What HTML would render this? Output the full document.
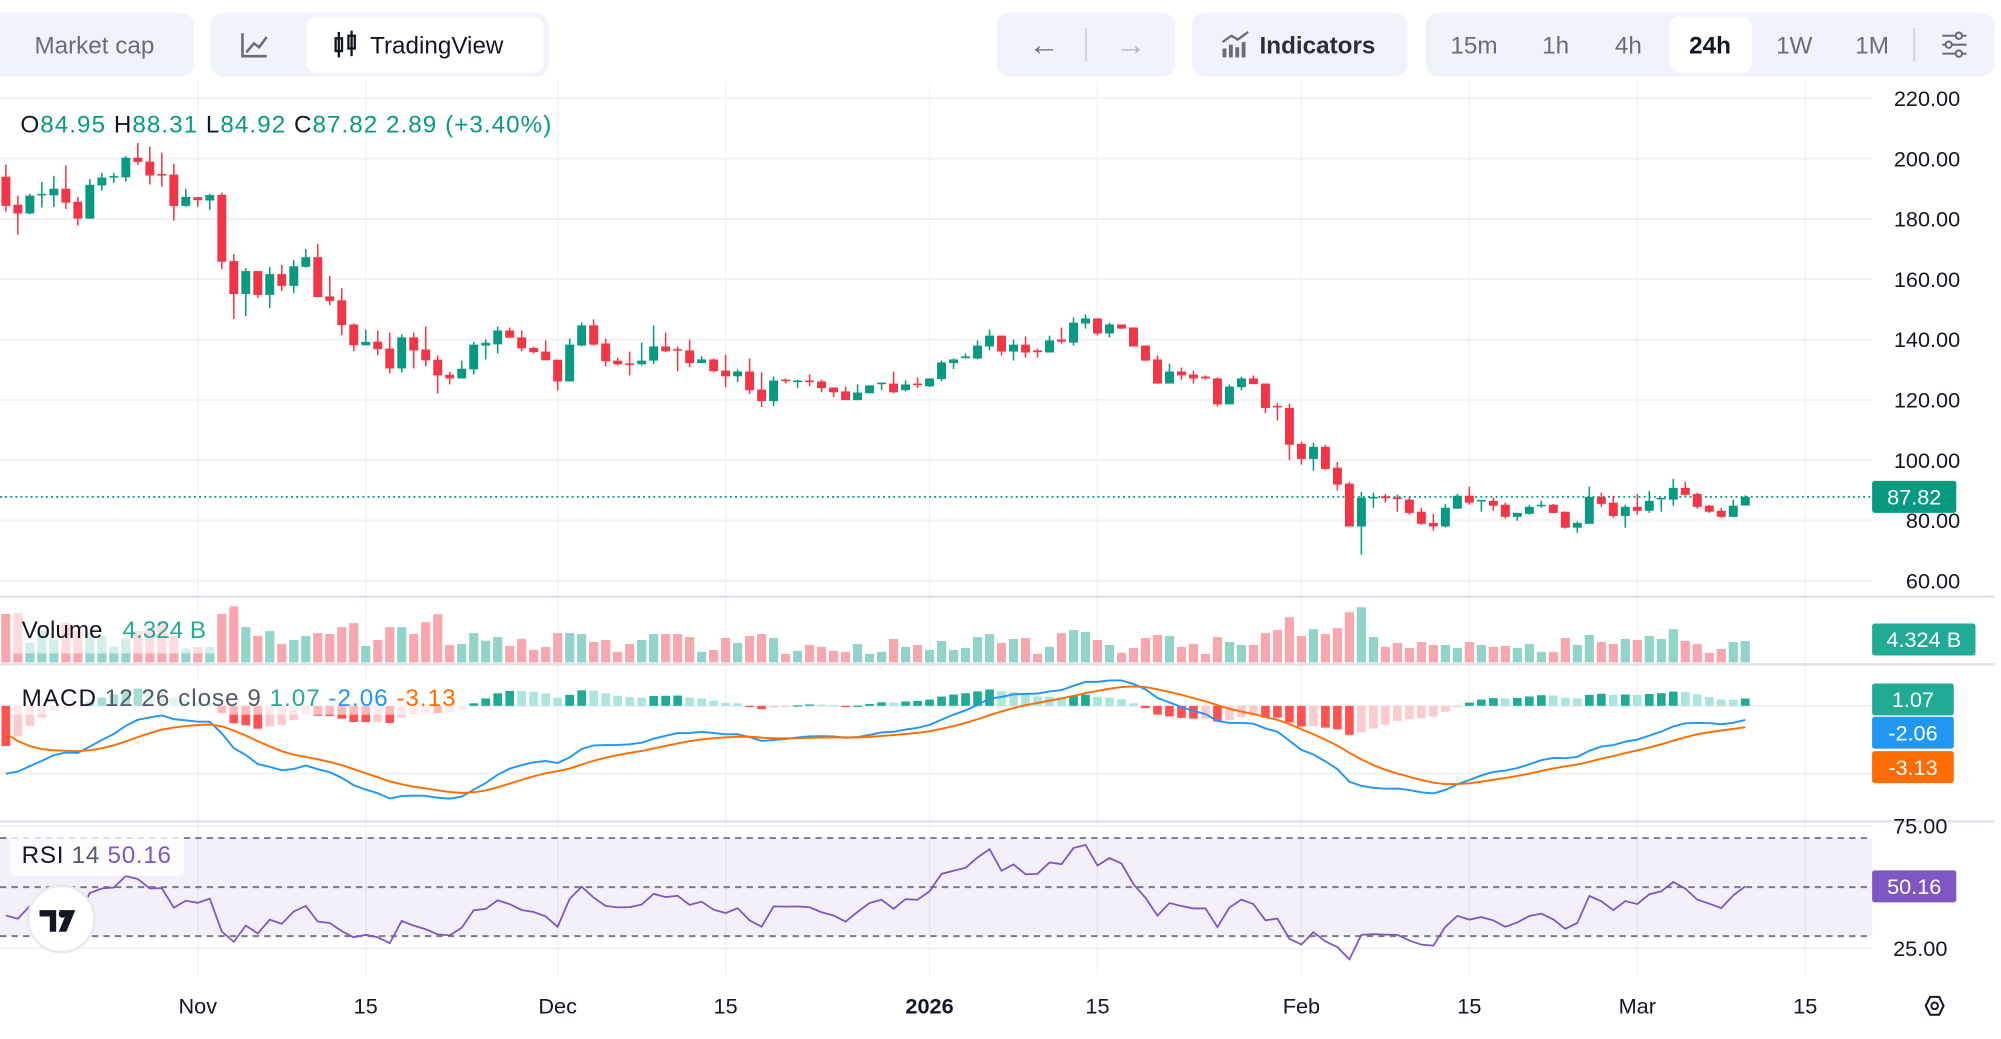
<!DOCTYPE html>
<html><head><meta charset="utf-8">
<style>
html,body{margin:0;padding:0;background:#fff;}
svg{display:block;font-family:"Liberation Sans",sans-serif;}
</style></head>
<body>
<svg id="chart" width="2001" height="1039" viewBox="0 0 1568 814" preserveAspectRatio="none" xmlns="http://www.w3.org/2000/svg">
<rect x="0" y="0" width="1568" height="814" fill="#ffffff"/>
<g>
  <rect x="-10" y="10" width="162" height="50" rx="10" fill="#f0f3fa"/>
  <text x="27" y="42" font-size="19" fill="#6a6d78">Market cap</text>
  <rect x="165" y="10" width="265" height="50" rx="10" fill="#f0f3fa"/>
  <path d="M190 26 V44 H209 M193 41 L199 34 L203 37 L209 29" stroke="#6a6d78" stroke-width="2" fill="none"/>
  <rect x="240" y="13" width="186" height="44" rx="8" fill="#ffffff"/>
  <g stroke="#131722" stroke-width="1.8" fill="none"><rect x="263" y="30" width="5" height="10"/><line x1="265.5" y1="25" x2="265.5" y2="45"/><rect x="273" y="28" width="5" height="10"/><line x1="275.5" y1="24" x2="275.5" y2="44"/></g>
  <text x="290" y="42" font-size="19" fill="#131722">TradingView</text>
  <rect x="781" y="10" width="140" height="50" rx="10" fill="#f0f3fa"/>
  <text x="806" y="43" font-size="24" fill="#6a6d78">←</text>
  <line x1="851" y1="22" x2="851" y2="48" stroke="#d1d4dc" stroke-width="1.5"/>
  <text x="874" y="43" font-size="24" fill="#b2b5be">→</text>
  <rect x="934" y="10" width="169" height="50" rx="10" fill="#f0f3fa"/>
  <g fill="#6a6d78"><rect x="958" y="38" width="3" height="7"/><rect x="963" y="35" width="3" height="10"/><rect x="968" y="37" width="3" height="8"/><rect x="973" y="33" width="3" height="12"/></g>
  <path d="M958 33 L965 28 L970 31 L978 25" stroke="#6a6d78" stroke-width="1.8" fill="none"/>
  <text x="987" y="42" font-size="19" font-weight="bold" fill="#2a2e39">Indicators</text>
  <rect x="1117" y="10" width="446" height="50" rx="10" fill="#f0f3fa"/>
  <text x="1155" y="42" font-size="19" fill="#6a6d78" text-anchor="middle">15m</text>
  <text x="1219" y="42" font-size="19" fill="#6a6d78" text-anchor="middle">1h</text>
  <text x="1276" y="42" font-size="19" fill="#6a6d78" text-anchor="middle">4h</text>
  <rect x="1308" y="13" width="65" height="44" rx="8" fill="#ffffff"/>
  <text x="1340" y="42" font-size="19" font-weight="bold" fill="#131722" text-anchor="middle">24h</text>
  <text x="1406" y="42" font-size="19" fill="#6a6d78" text-anchor="middle">1W</text>
  <text x="1467" y="42" font-size="19" fill="#6a6d78" text-anchor="middle">1M</text>
  <line x1="1500" y1="22" x2="1500" y2="48" stroke="#d1d4dc" stroke-width="1.5"/>
  <g stroke="#6a6d78" stroke-width="1.6" fill="#f0f3fa"><line x1="1522" y1="28" x2="1541" y2="28"/><line x1="1522" y1="35" x2="1541" y2="35"/><line x1="1522" y1="42" x2="1541" y2="42"/><circle cx="1535" cy="28" r="2.5"/><circle cx="1527" cy="35" r="2.5"/><circle cx="1535" cy="42" r="2.5"/></g>
</g>
<g id="grid"></g>
<g id="panes"></g>
<g id="marks"></g>
<g id="legends"></g>
<g id="axes"></g>
</svg>
<script>
// ---- data (Oct 16 2025 .. Mar 10 2026, daily) ----
const firstDay = -16; // days relative to Nov 1
const opens = [194,184.7,181.8,188,187.8,190,185.7,180.1,191.1,193.8,193.8,200.3,199,194.9,194.7,184.3,
187.2,186.1,188,166,155.1,162.7,154.8,161.7,157.8,164.1,167.3,154.3,153,145,138.1,139.3,137,130.4,140.7,136.7,
133.3,128.3,127.1,130.1,138,138.4,143,140.7,137.2,136,133.3,126.1,138,144.7,138.7,133,132.1,131.8,133,137.7,
136.8,136.4,132.2,133.4,129.7,127.8,129.4,123.4,119.6,126.7,126.1,126.4,126.1,124.1,122.8,119.9,122.2,125.2,
125.4,123.2,125.4,124.5,126.9,132.2,133.8,133.7,137.7,141.3,136,138.3,136.4,135.7,140,139,145.3,147,142,145,
144,138,133.4,125.4,129.4,128.4,127.7,127.1,118.5,124.2,127.1,125.4,118,117.3,105.4,100.4,104.4,97.5,92.2,78,
87.6,88,87.6,86.9,82.9,79.2,78,83.9,88.2,86.5,86.5,85.2,81.2,82.2,84.9,85.2,82.9,77.6,78.9,87.8,85.9,81.5,
84.5,83.2,87.2,86.9,90.8,88.8,84.9,83.2,81.2,84.95];
const highs = [198,187.7,188.3,192.3,194.3,197.7,187.3,193.2,195.3,195.3,200.8,205.2,204,202,198.3,190,
187.3,188.3,188.7,168.3,163.7,162.7,164,164.7,166.3,170,171.7,161.1,157,145.3,143.3,143,142.3,141.7,142.3,144.3,
134.7,129.3,133,139.3,140,144.3,144,143,137.6,139.7,133.3,140.3,145.7,146.7,140.3,134,136,139,144.7,142.3,
137.7,140,134.4,133.7,135,130.1,133.7,129.1,127.7,127.1,126.7,128.4,126.7,124.1,124.4,125.1,124.8,125.7,
129.4,126.4,127.4,127.1,133,133.7,135.4,139.7,143.3,141.3,140,141,137,141.3,144,147.3,148.3,147,145.6,145,
144,138,134.7,132,130.7,129.7,128.1,127.4,125.1,127.7,128.1,125.4,119,118.7,106.1,105.7,105.1,99.4,92.8,89.5,
89.2,88.8,88.6,87.6,84.2,82.2,85.5,88.8,91.2,86.8,87.5,85.9,82.5,85.2,86.5,85.5,82.9,79.6,91.2,89.2,88.2,85.2,
88.8,89.8,87.5,93.8,92.8,89.2,85.2,84.2,86.9,88.31];
const lows = [182.4,174.8,181.5,183.8,184,183.3,177.8,180,189.4,191.9,192.4,197.9,191.4,190.7,179.4,184,
184,183,163.4,146.8,147.8,153.8,150.4,156.1,155.4,163.8,154.1,151.4,141.4,136.1,138,134.8,128.8,129.1,130.4,131.1,
122.1,125.1,127.1,128.4,133.4,135.4,140.6,136.1,135.4,133.1,123.1,126.1,137.7,138,131.1,131.4,128.1,131.4,131.8,135.8,
129.5,130.8,132.2,129.2,124.2,125.9,121.9,117.6,118,125.5,123.9,124.5,122.5,120.9,119.9,119.9,122.2,123.2,
122.2,122.8,123.9,124.2,126.2,130.2,133.8,133.4,136.4,134.7,133,134,134,135.7,138.7,138,143.6,141.3,140.7,143.6,
137.7,133,125.4,125.4,126.7,125.4,126.7,117.8,118.5,123.1,125.2,115.6,113.1,100.1,98.5,96.5,96.8,89.9,78,68.7,
84.2,85.9,82.9,81.9,78.6,76.6,77.7,83.9,85.2,82.9,83.2,80.6,79.9,81.9,84.2,82.5,77.3,75.9,78.9,84.5,80.9,77.6,
81.9,82.5,82.9,84.9,88.2,83.9,82.5,80.9,81.2,84.92];
const closes = [184.3,181.8,187.7,188.3,190,185.4,180.1,191.3,193.7,194.2,200.3,198.9,194.4,194.6,184.3,187.3,
186.2,187.9,165.8,155.1,162.7,154.8,161.7,157.8,164.3,167.3,154.1,152.8,144.8,138.1,139.2,136.8,130.4,140.7,136.4,133.1,
128.1,127.1,130.3,138.3,138.9,143,140.6,137.1,135.8,133.1,126.1,138.3,144.7,138.3,132.8,131.8,131.9,133,137.7,136.1,
136.6,132.2,133.4,129.5,127.8,129.4,123.2,119.6,126.4,126.3,126.4,126,123.9,122.5,119.9,122.4,124.8,125.7,
122.5,125.1,124.9,127.1,132.4,133.4,134.4,138,141.3,136,138.3,135.7,135.8,139.7,139.3,145.6,147,142,145,143.6,
137.7,133,125.4,129.4,128.1,127.1,127.1,118.5,124.4,127.1,125.2,117.3,117.8,105.1,100.4,104.4,97.1,91.9,78,87.5,
87.8,87.4,87.2,82.5,78.9,78,84.2,88.2,85.9,86.8,84.9,81.2,82.5,84.5,85.2,82.5,77.6,79.2,87.8,85.5,81.5,84.5,
83.2,86.5,87.5,90.8,88.5,84.5,82.9,81.2,84.9,87.82];
// volume in units of ~66.5M shares
const volumes = [147,150,60,95,70,120,95,90,80,48,72,95,100,126,80,42,
47,47,147,170,107,80,95,56,68,80,89,86,107,119,50,68,107,107,86,122,
146,53,56,89,66,77,50,71,38,47,89,89,86,62,68,32,56,68,86,86,
86,77,32,38,74,59,80,86,74,26,35,53,47,35,32,56,26,32,71,47,
53,38,65,38,44,77,86,59,71,74,26,47,89,98,92,68,53,29,44,74,
83,80,47,56,26,77,62,53,53,89,98,137,80,101,86,104,152,167,77,47,
59,44,62,53,53,44,62,53,47,50,44,56,32,32,74,53,83,62,56,71,
68,80,71,101,65,56,29,41,62,65];
const priceTicks = [220,200,180,160,140,120,100,80,60];
const rsiTicks = [75,25];
const timeTickDays = [0,14,30,44,61,75,92,106,120,134];
const timeTickLabels = ["Nov","15","Dec","15","2026","15","Feb","15","Mar","15"];
const lastPrice = 87.82;
// indicator seeds (history before visible range)
const macdSeed = [188,198.5,-2.6];
const rsiSeed = [2.0,3.2];

const NS = "http://www.w3.org/2000/svg";
function mk(tag, attrs, parent){const e=document.createElementNS(NS,tag);for(const k in attrs)e.setAttribute(k,attrs[k]);parent.appendChild(e);return e;}
const G = id=>document.getElementById(id);
const xOf = i => 155 + 9.4*(i+firstDay);
const dayX = d => 155 + 9.4*d;
const pY = p => 77 + (220-p)*2.3625;
const vY = v => 519 - v*(44/170);
const mY = v => 553 - v*5.3;
const rY = r => 695 - (r-50)*1.92;
const UP="#089981", DN="#f23645";

const grid=G("grid");
timeTickDays.forEach((d,k)=>{
  const l=mk("line",{x1:dayX(d),x2:dayX(d),y1:64,y2:764,stroke:"#f0f1f4","stroke-width":1},grid);
  
  
});
priceTicks.forEach(p=>{
  const l=mk("line",{x1:0,x2:1467,y1:pY(p),y2:pY(p),stroke:"#f0f1f4","stroke-width":1.5},grid);
  
  
});
[0,-10].forEach(v=>{
  const l=mk("line",{x1:0,x2:1467,y1:mY(v),y2:mY(v),stroke:"#f0f1f4","stroke-width":1.5},grid);
  
  
});
rsiTicks.forEach(r=>{
  const l=mk("line",{x1:0,x2:1467,y1:rY(r),y2:rY(r),stroke:"#f0f1f4","stroke-width":1.5},grid);
  
  
});
const panes=G("panes");
[467.5,520.5,643.5].forEach(y=>{
  const l=mk("line",{x1:0,x2:1563,y1:y,y2:y,stroke:"#e0e3eb","stroke-width":2},panes);
  
  
});
const band=mk("rect",{x:0,y:rY(70),width:1467,height:rY(30)-rY(70),fill:"#7e57c2","fill-opacity":0.09},panes);


[70,50,30].forEach(r=>{
  const l=mk("line",{x1:0,x2:1467,y1:rY(r),y2:rY(r),stroke:"#787b86","stroke-width":1.5,"stroke-dasharray":"5 4"},panes);
  
  
});

const marks=G("marks");
const lp=mk("line",{x1:0,x2:1467,y1:pY(lastPrice),y2:pY(lastPrice),stroke:UP,"stroke-width":1.3,"stroke-dasharray":"1.5 2.5"},marks);



for(let i=0;i<closes.length;i++){
  const up=closes[i]>=opens[i], c=up?UP:DN, x=xOf(i);
  const w=mk("line",{x1:x,x2:x,y1:pY(highs[i]),y2:pY(lows[i]),stroke:c,"stroke-width":1.2},marks);
  
  
  const t=pY(Math.max(opens[i],closes[i])), b=pY(Math.min(opens[i],closes[i]));
  const r=mk("rect",{x:x-3.5,y:t,width:7,height:Math.max(1.2,b-t),fill:c},marks);
  
  
  const vb=mk("rect",{x:x-3.6,y:vY(volumes[i]),width:7.2,height:519-vY(volumes[i]),fill:up?"#92d4c8":"#f9a7af"},marks);
  
  
}

const k12=2/13,k26=2/27,k9=2/10;
let e12=macdSeed[0],e26=macdSeed[1],sig=macdSeed[2];
const macd=[],signal=[],hist=[];
closes.forEach(c=>{e12=c*k12+e12*(1-k12);e26=c*k26+e26*(1-k26);const m=e12-e26;sig=m*k9+sig*(1-k9);macd.push(m);signal.push(sig);hist.push(m-sig);});
let prevH=hist[0]+0.3;
hist.forEach((h,i)=>{
  let col;
  if(h>=0) col = h>=prevH?"#22ab94":"#ace5dc"; else col = h<prevH?"#ff5252":"#fccbcd";
  prevH=h;
  const y0=mY(0), y1=mY(h);
  const r=mk("rect",{x:xOf(i)-3.4,y:Math.min(y0,y1),width:6.8,height:Math.max(1,Math.abs(y1-y0)),fill:col},marks);
  
  
});
const path=(arr,f)=>arr.map((v,i)=>(i?"L":"M")+xOf(i).toFixed(1)+" "+f(v).toFixed(1)).join(" ");
const ml=mk("path",{d:path(macd,mY),stroke:"#2196f3","stroke-width":1.5,fill:"none"},marks);


const sl=mk("path",{d:path(signal,mY),stroke:"#ff6d00","stroke-width":1.5,fill:"none"},marks);



let ag=rsiSeed[0],al=rsiSeed[1];const rsi=[100-100/(1+ag/al)];
for(let i=1;i<closes.length;i++){const ch=closes[i]-closes[i-1];ag=(ag*13+Math.max(ch,0))/14;al=(al*13+Math.max(-ch,0))/14;rsi.push(100-100/(1+ag/al));}
const rl=mk("path",{d:path(rsi,rY),stroke:"#7e57c2","stroke-width":1.4,fill:"none"},marks);



const lg=G("legends");
function txt(parent,x,y,s,fill,size,extra){const t=mk("text",Object.assign({x:x,y:y,"font-size":size||18,fill:fill},extra||{}),parent);t.textContent=s;return t;}
const ohlc=mk("text",{x:16,y:104,"font-size":19,textLength:416,lengthAdjust:"spacing"},lg);


[["O","#131722"],["84.95",UP],["  H","#131722"],["88.31",UP],["  L","#131722"],["84.92",UP],["  C","#131722"],["87.82",UP],["  2.89  (+3.40%)",UP]].forEach(p=>{const s=mk("tspan",{fill:p[1]},ohlc);s.textContent=p[0];});
const vbx=mk("rect",{x:8,y:478,width:162,height:34,fill:"#ffffff","fill-opacity":0.6,rx:3},lg);


const vl=txt(lg,17,500,"Volume","#131722",19);


txt(lg,96,500,"4.324 B","#22ab94",19);
const mbx=mk("rect",{x:8,y:532,width:358,height:28,fill:"#ffffff","fill-opacity":0.6,rx:3},lg);


const mt=mk("text",{x:17,y:553,"font-size":19,textLength:340,lengthAdjust:"spacing"},lg);


[["MACD","#131722"],[" 12 26 close 9","#555965"],["  1.07","#22ab94"],["  -2.06","#2196f3"],["  -3.13","#ff6d00"]].forEach(p=>{const s=mk("tspan",{fill:p[1]},mt);s.textContent=p[0];});
const rbx=mk("rect",{x:8,y:655,width:136,height:31,fill:"#ffffff","fill-opacity":0.75,rx:3},lg);


const rt=mk("text",{x:17,y:676,"font-size":19,textLength:117,lengthAdjust:"spacing"},lg);


[["RSI","#131722"],[" 14","#555965"],["  50.16","#7e57c2"]].forEach(p=>{const s=mk("tspan",{fill:p[1]},rt);s.textContent=p[0];});
const logo=mk("circle",{cx:48,cy:720,r:26,fill:"#ffffff",stroke:"#e8e9ee","stroke-width":2},lg);


mk("path",{d:"M31 713 H44 V730 H39 V718 H31 Z M46 713 H53 L59 713 L52 730 H46 L51 718 Z",fill:"#131722"},lg);
mk("circle",{cx:49,cy:716,r:3,fill:"#131722"},lg);

const ax=G("axes");
priceTicks.forEach(p=>{
  const t=txt(ax,1536,pY(p)+6,p.toFixed(2),"#131722",17,{"text-anchor":"end"});
  
  
});
rsiTicks.forEach(r=>{
  const t=txt(ax,1526,rY(r)+6,r.toFixed(2),"#131722",17,{"text-anchor":"end"});
  
  
});
function badge(y,w,fill,s,name){
  const r=mk("rect",{x:1467,y:y-12.5,width:w,height:25,fill:fill,rx:2},ax);
  
  
  txt(ax,1467+w/2,y+6,s,"#ffffff",17,{"text-anchor":"middle"});
}
badge(pY(lastPrice),66,UP,"87.82","last-price-badge");
badge(501,81,"#22ab94","4.324 B","volume-badge");
badge(548,64,"#22ab94","1.07","macd-hist-badge");
badge(574,64,"#2196f3","-2.06","macd-badge");
badge(601,64,"#ff6d00","-3.13","signal-badge");
badge(rY(rsi[rsi.length-1]),66,"#7e57c2","50.16","rsi-badge");
timeTickDays.forEach((d,k)=>{
  const t=txt(ax,dayX(d),794,timeTickLabels[k],"#131722",17,{"text-anchor":"middle","font-weight":timeTickLabels[k]==="2026"?"bold":"normal"});
  
  
});
const gear=mk("path",{d:"M1509 788 L1512.5 781 H1519.5 L1523 788 L1519.5 795 H1512.5 Z",stroke:"#131722","stroke-width":1.6,fill:"none"},ax);


mk("circle",{cx:1516,cy:788,r:2.6,stroke:"#131722","stroke-width":1.5,fill:"none"},ax);
</script>
</body></html>
